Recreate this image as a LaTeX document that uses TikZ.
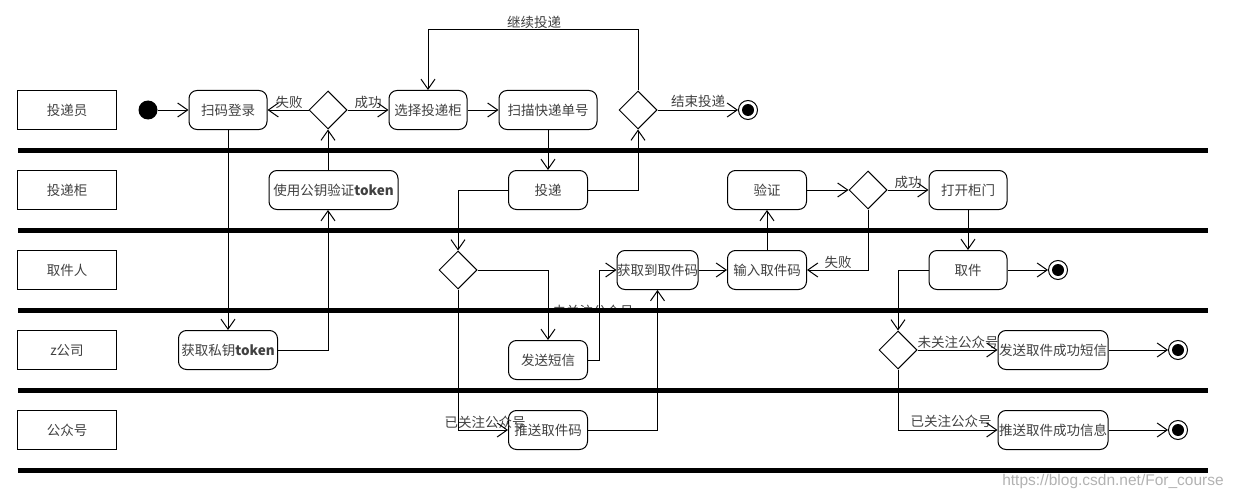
\documentclass[tikz,border=0pt]{standalone}
\usepackage{fontspec}
\setmainfont{Noto Sans CJK SC}
\newfontfamily\urlfont{Liberation Sans}
\usetikzlibrary{arrows.meta,shapes.geometric}

\tikzset{
	lane/.style={draw,line width=1pt,minimum width=99pt,minimum height=39pt},
	act/.style={draw,line width=1pt,rounded corners=8pt,fill=white,minimum height=39pt,inner sep=0pt},
	choice/.style={draw,line width=1pt,diamond,aspect=1,fill=white,minimum size=38pt,inner sep=0pt},
	init/.style={circle,fill,minimum size=19pt,inner sep=0pt},
	final/.style={circle,draw,line width=1pt,fill=white,minimum size=19pt,inner sep=0pt,
		path picture={\fill[black] (path picture bounding box.center) circle (6pt);}},
	flow/.style={line width=1pt,-{Straight Barb[length=10pt,width=14pt]}},
	bar/.style={line width=5.5pt},
}

\begin{document}
\begin{tikzpicture}[x=1pt,y=-1pt,font=\fontsize{13.5}{15}\selectfont,text=black!75]
	\useasboundingbox (0,0) rectangle (1235,495);

	\node[lane] at (67,110)(l1){投递员};
	\node[lane] at (67,190)(l2){投递柜};
	\node[lane] at (67,270)(l3){取件人};
	\node[lane] at (67,350)(l4){z公司};
	\node[lane] at (67,430)(l5){公众号};

	\node[init] at (148,110)(s){};
	\node[act,minimum width=78pt] at (228,110)(scan){扫码登录};
	\node[choice] at (328,110)(d1){};
	\node[act,minimum width=78pt] at (428,110)(pick){选择投递柜};
	\node[act,minimum width=98pt] at (548,110)(bill){扫描快递单号};
	\node[choice] at (638,110)(d2){};
	\node[final] at (748,110)(e1){};

	\node[act,minimum width=129pt] at (333.5,190)(verify){使用公钥验证\textbf{token}};
	\node[act,minimum width=79pt] at (548,190)(drop){投递};
	\node[act,minimum width=79pt] at (767,190)(check){验证};
	\node[choice] at (868,190)(d3){};
	\node[act,minimum width=78pt] at (968,190)(open){打开柜门};

	\node[choice] at (458,270)(d4){};
	\node[act,minimum width=79pt] at (657.5,270)(got){获取到取件码};
	\node[act,minimum width=79pt] at (767,270)(input){输入取件码};
	\node[act,minimum width=78pt] at (968,270)(take){取件};
	\node[final] at (1058,270)(e2){};

	\node[act,minimum width=99pt] at (228,350)(key){获取私钥\textbf{token}};
	\node[act,minimum width=79pt] at (548,360)(sms){发送短信};
	\node[choice] at (898,350)(d5){};
	\node[act,minimum width=110pt] at (1053,350)(okmsg){发送取件成功短信};
	\node[final] at (1178,350)(e3){};

	\node[act,minimum width=79pt] at (548,430)(push){推送取件码};
	\node[act,minimum width=110pt] at (1053,430)(okpush){推送取件成功信息};
	\node[final] at (1178,430)(e4){};

	\node at (289,102)(fail1){失败};
	\node at (368,102)(ok1){成功};
	\node at (534,22)(go){继续投递};
	\node at (698,101)(stop){结束投递};
	\node at (908,182)(ok2){成功};
	\node at (838,262)(fail2){失败};
	\node at (485,422)(yes1){已关注公众号};
	\node at (958,342)(no2){未关注公众号};
	\node at (951,421)(yes2){已关注公众号};
	\begin{scope}
		\clip (540,290) rectangle (650,308);
		\node at (593,311)(no1){未关注公众号};
	\end{scope}

	\path[flow] (s)edge(scan) (d1)edge(scan) (d1)edge(pick) (pick)edge(bill)
		(d2)edge(e1) (bill)edge(drop) (scan)edge(key) (verify.north -| d1)edge(d1.south)
		(got)edge(input) (input)edge(check) (check)edge(d3) (d3)edge(open)
		(open)edge(take) (take)edge(e2) (d5)edge(okmsg) (okmsg)edge(e3) (okpush)edge(e4);
	\draw[flow] (d2.north) -- ++(0,-61) -| (pick.north);
	\draw[flow] (drop.east) -| (d2.south);
	\draw[flow] (key.east) -| (verify.south -| d1);
	\draw[flow] (drop.west) -| (d4.north);
	\draw[flow] (d4.east) -| (sms.north);
	\draw[flow] (d4.south) |- (push.west);
	\draw[flow] (sms.east) -- ++(11,0) |- (got.west);
	\draw[flow] (push.east) -| (got.south);
	\draw[flow] (d3.south) |- (input.east);
	\draw[flow] (take.west) -| (d5.north);
	\draw[flow] (d5.south) |- (okpush.west);

	\foreach \y in {150.5,230.5,310.5,390.5,470.5}
		\draw[bar] (18,\y) -- (1208,\y);

	\node[text=black!30,font=\urlfont\fontsize{15.5}{17}\selectfont] at (1113,481)(url){https://blog.csdn.net/For\_course};
\end{tikzpicture}
\end{document}
